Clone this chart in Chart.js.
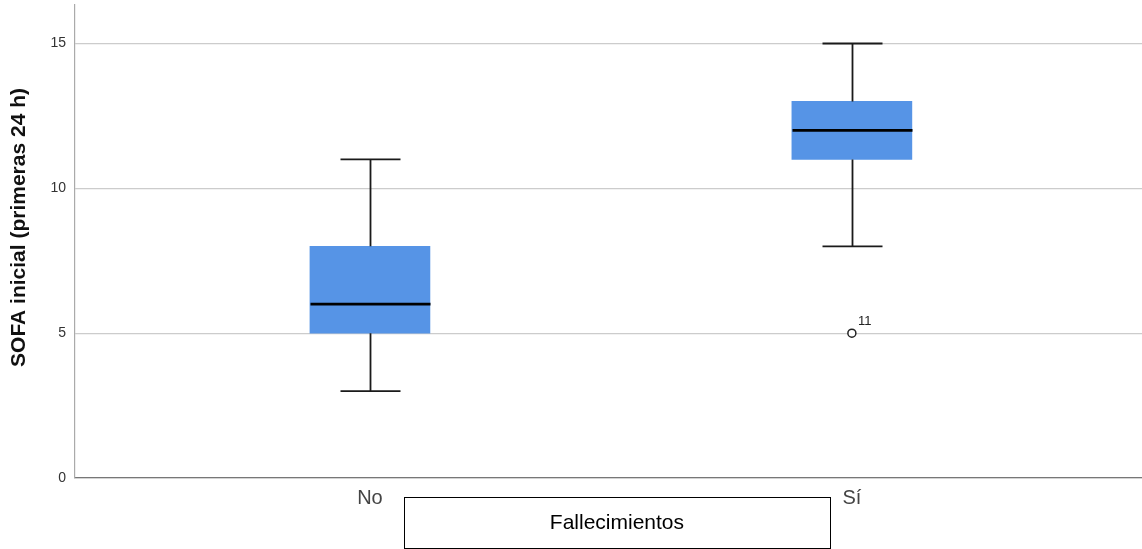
<!DOCTYPE html>
<html>
<head>
<meta charset="utf-8">
<script src="https://cdn.jsdelivr.net/npm/chart.js@4/dist/chart.umd.min.js"></script>
<style>
html,body{margin:0;padding:0;background:#fff;overflow:hidden;}
#wrap{width:1142px;height:549px;position:relative;}
</style>
</head>
<body>
<div id="wrap"><canvas id="c" width="1142" height="549"></canvas></div>
<script>
// ---- data ----
const categories = ['No', 'Sí'];
const positions = [1, 2];
const whiskerMin = [3, 8];
const q1 = [5, 11];
const median = [6, 12];
const q3 = [8, 13];
const whiskerMax = [11, 15];
const outlierCategory = [2];
const outlierValue = [5];
const outlierLabel = ['11'];
const yTicks = [0, 5, 10, 15];
const xTitle = 'Fallecimientos';
const yTitle = 'SOFA inicial (primeras 24 h)';

const FONT = '"Liberation Sans", Arial, sans-serif';

const boxData = positions.map((p, i) => ({x: p, y: [q1[i], q3[i]]}));
const outlierData = outlierCategory.map((p, i) => ({x: p, y: outlierValue[i]}));

const boxPlugin = {
  id: 'boxParts',
  afterDatasetsDraw(chart) {
    const ctx = chart.ctx;
    const xs = chart.scales.x, ys = chart.scales.y;
    ctx.save();
    positions.forEach((p, i) => {
      const x = Math.round(xs.getPixelForValue(p)) + 0.5;
      ctx.strokeStyle = '#1a1a1a';
      ctx.lineWidth = 1.8;
      ctx.beginPath();
      ctx.moveTo(x, ys.getPixelForValue(whiskerMax[i]));
      ctx.lineTo(x, ys.getPixelForValue(q3[i]));
      ctx.moveTo(x, ys.getPixelForValue(q1[i]));
      ctx.lineTo(x, ys.getPixelForValue(whiskerMin[i]));
      const capW = 30;
      [whiskerMax[i], whiskerMin[i]].forEach(v => {
        const y = ys.getPixelForValue(v);
        ctx.moveTo(x - capW, y);
        ctx.lineTo(x + capW, y);
      });
      ctx.stroke();
      ctx.strokeStyle = '#000';
      ctx.lineWidth = 2.8;
      ctx.beginPath();
      const ym = ys.getPixelForValue(median[i]);
      ctx.moveTo(x - 60, ym);
      ctx.lineTo(x + 60, ym);
      ctx.stroke();
    });
    // outlier labels
    ctx.fillStyle = '#222';
    ctx.font = '13px ' + FONT;
    ctx.textAlign = 'left';
    ctx.textBaseline = 'middle';
    outlierCategory.forEach((p, i) => {
      const x = xs.getPixelForValue(p), y = ys.getPixelForValue(outlierValue[i]);
      ctx.fillText(outlierLabel[i], x + 6, y - 12);
    });
    // x title box
    const cx = (xs.getPixelForValue(positions[0]) + xs.getPixelForValue(positions[1])) / 2 + 6;
    const bw = 426, bh = 51, by = 497;
    ctx.strokeStyle = '#000';
    ctx.lineWidth = 1;
    ctx.strokeRect(Math.round(cx - bw / 2) + 0.5, by + 0.5, bw, bh);
    ctx.fillStyle = '#000';
    ctx.font = '21px ' + FONT;
    ctx.textAlign = 'center';
    ctx.textBaseline = 'middle';
    ctx.fillText(xTitle, cx, by + bh / 2 + 1);
    // y title
    ctx.save();
    ctx.translate(19, (chart.chartArea.top + chart.chartArea.bottom) / 2 - 14);
    ctx.rotate(-Math.PI / 2);
    ctx.fillStyle = '#111';
    ctx.font = 'bold 21px ' + FONT;
    ctx.fillText(yTitle, 0, 0);
    ctx.restore();
    ctx.restore();
  }
};

new Chart(document.getElementById('c'), {
  type: 'bar',
  data: {
    datasets: [
      {
        type: 'bar',
        data: boxData,
        backgroundColor: '#5694e6',
        borderWidth: 0,
        barThickness: 120,
        grouped: false
      },
      {
        type: 'scatter',
        data: outlierData,
        pointStyle: 'circle',
        pointRadius: 4,
        pointBorderWidth: 1.5,
        pointBackgroundColor: '#fff',
        pointBorderColor: '#222'
      }
    ]
  },
  options: {
    responsive: false,
    animation: false,
    layout: {autoPadding: false, padding: {top: 5, left: 0, right: 0, bottom: 0}},
    plugins: {legend: {display: false}, tooltip: {enabled: false}},
    scales: {
      x: {
        type: 'linear',
        offset: false,
        min: 0.388,
        max: 2.602,
        afterBuildTicks(s) { s.ticks = positions.map(v => ({value: v})); },
        afterFit(s) { s.height = 71; s.paddingLeft = 0; s.paddingRight = 0; },
        grid: {display: false, drawTicks: false},
        border: {display: true, color: '#777', width: 1.2},
        ticks: {
          padding: 8,
          color: '#444',
          font: {family: FONT, size: 20},
          maxRotation: 0,
          autoSkip: false,
          callback: v => categories[positions.indexOf(v)]
        }
      },
      y: {
        min: 0,
        max: 16.33,
        afterBuildTicks(s) { s.ticks = yTicks.map(v => ({value: v})); },
        afterFit(s) { s.width = 75; s.paddingTop = 0; s.paddingBottom = 0; },
        grid: {color: '#cccccc', lineWidth: 1.3, drawTicks: false},
        border: {display: true, color: '#aaa', width: 1.2},
        ticks: {
          padding: 9,
          color: '#333',
          font: {family: FONT, size: 14}
        },
        title: {display: false}
      }
    }
  },
  plugins: [boxPlugin]
});
</script>
</body>
</html>
